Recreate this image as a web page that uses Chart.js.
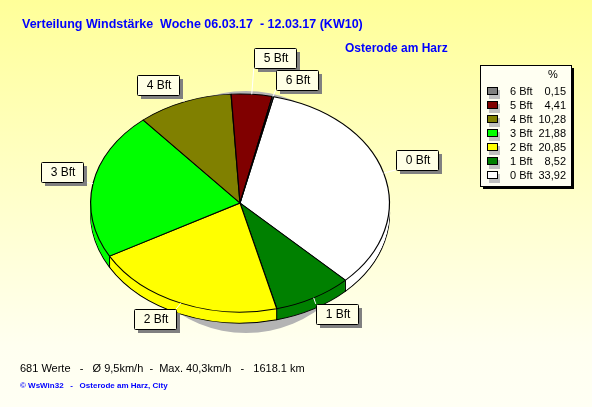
<!DOCTYPE html>
<html><head><meta charset="utf-8">
<style>html,body{margin:0;padding:0;background:#fff}canvas{display:block}</style>
<script src="https://cdn.jsdelivr.net/npm/chart.js@4"></script></head>
<body><canvas id="c" width="592" height="407"></canvas>
<script>
const categories = ["0 Bft","1 Bft","2 Bft","3 Bft","4 Bft","5 Bft","6 Bft"];
const shares = [33.92,8.52,20.85,21.88,10.28,4.41,0.15];
const shareLabels = ["33,92","8,52","20,85","21,88","10,28","4,41","0,15"];
const sliceColors = ["#FFFFFF","#008000","#FFFF00","#00FF00","#808000","#800000","#808080"];
const calloutOffsets = [[33,-13],[23,16],[-26,16],[-31,-12],[-26,-17],[23,-36],[24,-17]];
const titleText = "Verteilung Windstärke  Woche 06.03.17  - 12.03.17 (KW10)";
const placeText = "Osterode am Harz";
const statsText = "681 Werte   -   Ø 9,5km/h  -  Max. 40,3km/h   -   1618.1 km";
const creditText = "© WsWin32   -   Osterode am Harz, City";
const FLAT = 0.73, DEPTH = 11;

function flatten(ctx, cy){ ctx.translate(0,cy); ctx.scale(1,FLAT); ctx.translate(0,-cy); }

const pie3d = {
  id:"pie3d",
  beforeDraw(chart){
    const {ctx,width,height}=chart;
    const g=ctx.createLinearGradient(0,0,0,height);
    g.addColorStop(0,"#FFFF99"); g.addColorStop(0.85,"#FFFFF0"); g.addColorStop(1,"#FFFFF4");
    ctx.save(); ctx.fillStyle=g; ctx.fillRect(0,0,width,height); ctx.restore();
  },
  beforeDatasetsDraw(chart){
    const {ctx}=chart;
    const arcs=chart.getDatasetMeta(0).data;
    const cx=arcs[0].x, cy=arcs[0].y, r=arcs[0].outerRadius;
    // soft grey drop shadow behind the pie
    ctx.save(); ctx.fillStyle="#B4B4B4"; ctx.beginPath();
    ctx.ellipse(cx+6,cy+9,r*0.82,r*0.81,0,0,Math.PI*2); ctx.fill(); ctx.restore();
    // extruded side: bottom slice outline, then fill up to the top face
    for(let d=DEPTH;d>0;d--){
      ctx.save(); ctx.translate(0,d); flatten(ctx,cy);
      arcs.forEach(a=>{
        const o=a.options;
        if(d<DEPTH){ a.options=Object.assign({},o,{borderWidth:0}); }
        else { a.options=Object.assign({},o,{borderWidth:1.2}); }
        a.draw(ctx); a.options=o;
      });
      ctx.restore();
    }
    // vertical edges of slices on the visible front
    ctx.save(); ctx.strokeStyle="#000"; ctx.lineWidth=1;
    arcs.forEach(a=>{
      const s=Math.sin(a.startAngle), c=Math.cos(a.startAngle);
      if(s>0){
        const x=cx+r*c, y=cy+r*s*FLAT;
        ctx.beginPath(); ctx.moveTo(x,y); ctx.lineTo(x,y+DEPTH); ctx.stroke();
      }
    });
    ctx.restore();
    ctx.save(); flatten(ctx,cy);
  },
  afterDatasetsDraw(chart){
    const {ctx}=chart;
    ctx.restore();
    const arcs=chart.getDatasetMeta(0).data;
    ctx.save();
    ctx.textBaseline="middle"; ctx.fontKerning="normal";
    // callouts
    arcs.forEach((a,i)=>{
      const m=(a.startAngle+a.endAngle)/2;
      const ax=a.x+a.outerRadius*Math.cos(m), ay=a.y+a.outerRadius*Math.sin(m)*FLAT;
      const bx=ax+calloutOffsets[i][0]-21, by=ay+calloutOffsets[i][1]-10, bw=42, bh=20;
      const cornerX=calloutOffsets[i][0]>0?bx:bx+bw, cornerY=calloutOffsets[i][1]>0?by:by+bh;
      ctx.strokeStyle="#FFFFFF"; ctx.lineWidth=1;
      ctx.beginPath(); ctx.moveTo(ax,ay); ctx.lineTo(cornerX,cornerY); ctx.stroke();
      ctx.fillStyle="#808080"; ctx.fillRect(Math.round(bx)+4,Math.round(by)+4,bw,bh);
      ctx.fillStyle="#FFFFE6"; ctx.strokeStyle="#000";
      ctx.beginPath(); ctx.roundRect(Math.round(bx)+.5,Math.round(by)+.5,bw,bh,1); ctx.fill(); ctx.stroke();
      ctx.fillStyle="#000"; ctx.font="12px 'Liberation Sans'"; ctx.textAlign="center";
      ctx.fillText(categories[i],Math.round(bx)+bw/2+1,Math.round(by)+bh/2+1);
    });
    // legend box
    ctx.fillStyle="#000"; ctx.fillRect(483,68,91,121);
    ctx.fillStyle="#FFFFF2"; ctx.strokeStyle="#000"; ctx.lineWidth=1;
    ctx.fillRect(480.5,65.5,91,121); ctx.strokeRect(480.5,65.5,91,121);
    ctx.font="11px 'Liberation Sans'"; ctx.fillStyle="#000"; ctx.textAlign="center";
    ctx.fillText("%",553,75);
    for(let k=0;k<categories.length;k++){
      const i=categories.length-1-k, y=91+k*14;
      ctx.fillStyle="#C0C0C0"; ctx.fillRect(489,y-1,11,9);
      ctx.fillStyle=sliceColors[i]; ctx.strokeStyle="#000";
      ctx.fillRect(487.5,y-3.5,10,7); ctx.strokeRect(487.5,y-3.5,10,7);
      ctx.fillStyle="#000"; ctx.textAlign="left"; ctx.fillText(categories[i],510,y+.5);
      ctx.textAlign="right"; ctx.fillText(shareLabels[i],566,y+.5);
    }
    // texts
    ctx.textAlign="left"; ctx.fillStyle="#0000FF";
    ctx.font="bold 12.5px 'Liberation Sans'"; ctx.fillText(titleText,22,25);
    ctx.font="bold 12px 'Liberation Sans'"; ctx.fillText(placeText,345,49);
    ctx.fillStyle="#000"; ctx.font="11px 'Liberation Sans'"; ctx.fillText(statsText,20,369);
    ctx.fillStyle="#0000FF"; ctx.font="bold 8px 'Liberation Sans'"; ctx.fillText(creditText,20,386);
    ctx.restore();
  }
};

new Chart(document.getElementById("c"),{
  type:"pie",
  data:{labels:categories,datasets:[{data:shares,backgroundColor:sliceColors,borderColor:"#000",borderWidth:1.2,hoverOffset:0,clip:false}]},
  options:{
    responsive:false,animation:false,rotation:13,
    layout:{padding:{left:90,right:202,top:53,bottom:54}},
    plugins:{legend:{display:false},title:{display:false},tooltip:{enabled:false}},
    events:[]
  },
  plugins:[pie3d]
});
</script></body></html>
